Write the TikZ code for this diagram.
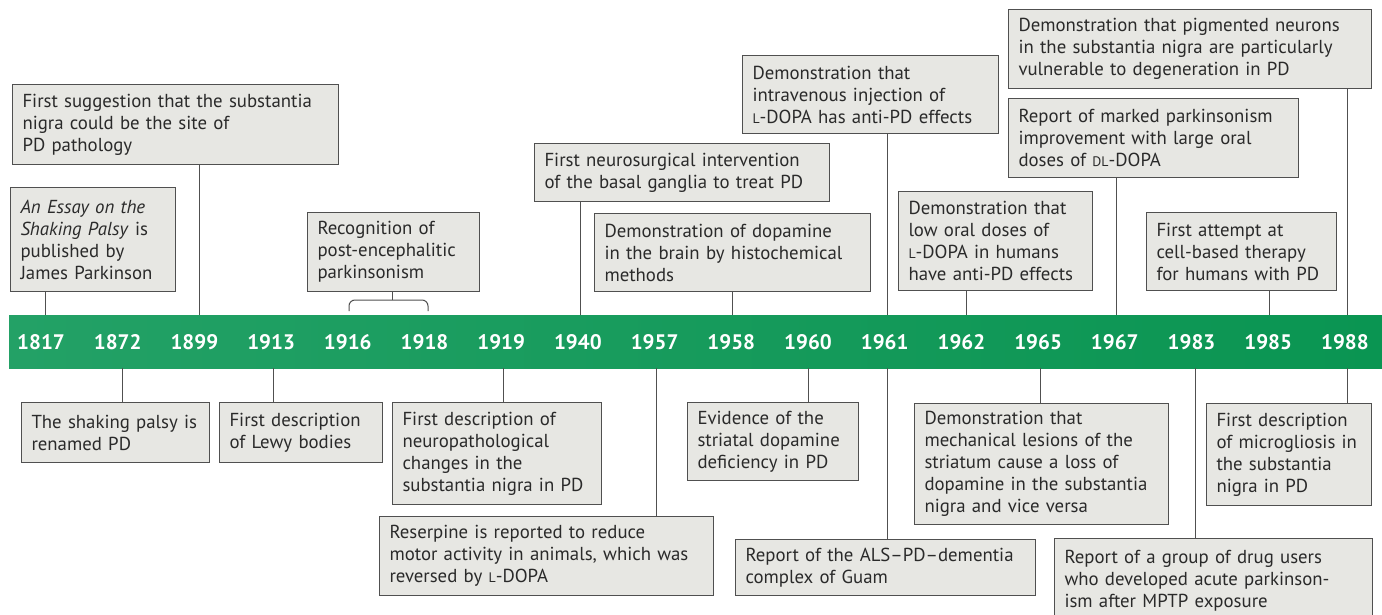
\documentclass[tikz,border=0pt]{standalone}
\usepackage{fontspec}
\setmainfont{PT Sans}
\definecolor{boxfill}{HTML}{E7E7E3}
\definecolor{boxline}{HTML}{505050}
\definecolor{txt}{HTML}{2A2A2A}
\definecolor{gL}{HTML}{23A166}
\definecolor{gR}{HTML}{0A9552}
\newcommand{\evfont}{\fontsize{18.8}{22}\selectfont}
\newcommand{\yrfont}{\fontsize{21}{22}\selectfont\bfseries}
\newcommand{\evsc}[1]{{\fontsize{13.8}{22}\selectfont #1}}
\tikzset{
  ev/.style={draw=boxline, fill=boxfill, line width=1pt, text=txt, font=\evfont,
    align=left, inner xsep=10pt, inner ysep=0pt, anchor=north west},
  conn/.style={draw=boxline, line width=1pt},
  yr/.style={text=white, font=\yrfont, inner sep=0pt},
  bar/.style={left color=gL, right color=gR, draw=none, inner sep=0pt,
    minimum width=1373pt, minimum height=53pt}
}
\begin{document}
\begin{tikzpicture}[x=1pt,y=-1pt]
\useasboundingbox (0,0) rectangle (1382,615);
\clip (0,0) rectangle (1382,615);
\fill[white] (0,0) rectangle (1382,615);

% timeline bar
\node[bar] (bar) at (695.5,341.5) {};
\foreach \yv [count=\i from 0] in {1817,1872,1899,1913,1916,1918,1919,1940,1957,1958,1960,1961,1962,1965,1967,1983,1985,1988}
  \node[yr] (y\yv) at ({41+76.7*\i},342) {\yv};

% connector x positions
\coordinate (x1817) at (45,0);
\coordinate (x1872) at (122,0);
\coordinate (x1899) at (199,0);
\coordinate (x1913) at (273,0);
\coordinate (x1916) at (349,0);
\coordinate (x1918) at (428,0);
\coordinate (x1917) at (392,0);
\coordinate (x1919) at (503,0);
\coordinate (x1940) at (580,0);
\coordinate (x1957) at (656,0);
\coordinate (x1958) at (732,0);
\coordinate (x1960) at (808,0);
\coordinate (x1961) at (887,0);
\coordinate (x1962) at (966,0);
\coordinate (x1965) at (1040,0);
\coordinate (x1967) at (1116,0);
\coordinate (x1983) at (1195,0);
\coordinate (x1985) at (1269,0);
\coordinate (x1988) at (1347,0);

% top boxes
\node[ev, text width=145pt, minimum height=104pt] (tEssay) at (10,187)
  {\textit{An Essay on the}\\\textit{Shaking Palsy} is\\published by\\James Parkinson};
\node[ev, text width=306pt, minimum height=80pt] (tSugg) at (12,84)
  {First suggestion that the substantia\\nigra could be the site of\\PD pathology};
\node[ev, text width=152pt, minimum height=79pt] (tRec) at (307,212)
  {Recognition of\\post-encephalitic\\parkinsonism};
\node[ev, text width=275pt, minimum height=58pt] (tSurg) at (534,143)
  {First neurosurgical intervention\\of the basal ganglia to treat PD};
\node[ev, text width=256pt, minimum height=78pt] (tHisto) at (594,213)
  {Demonstration of dopamine\\in the brain by histochemical\\methods};
\node[ev, text width=236pt, minimum height=78pt] (tIV) at (742,55)
  {Demonstration that\\intravenous injection of\\\evsc{L}-DOPA has anti-PD effects};
\node[ev, text width=174pt, minimum height=99pt] (tOral) at (898,191)
  {Demonstration that\\low oral doses of\\\evsc{L}-DOPA in humans\\have anti-PD effects};
\node[ev, text width=270pt, minimum height=79pt] (tDL) at (1008,98)
  {Report of marked parkinsonism\\improvement with large oral\\doses of \evsc{DL}-DOPA};
\node[ev, text width=343pt, minimum height=79pt] (tPig) at (1008,9)
  {Demonstration that pigmented neurons\\in the substantia nigra are particularly\\vulnerable to degeneration in PD};
\node[ev, text width=170pt, minimum height=78pt] (tCell) at (1146,212)
  {First attempt at\\cell-based therapy\\for humans with PD};

% bottom boxes
\node[ev, text width=168pt, minimum height=60pt] (bRen) at (21,402)
  {The shaking palsy is\\renamed PD};
\node[ev, text width=143pt, minimum height=60pt] (bLewy) at (219,402)
  {First description\\of Lewy bodies};
\node[ev, text width=189pt, minimum height=102pt] (bNeuro) at (392,402)
  {First description of\\neuropathological\\changes in the\\substantia nigra in PD};
\node[ev, text width=314pt, minimum height=79pt] (bRes) at (379,516)
  {Reserpine is reported to reduce\\motor activity in animals, which was\\reversed by \evsc{L}-DOPA};
\node[ev, text width=151pt, minimum height=78pt] (bEvid) at (687,402)
  {Evidence of the\\striatal dopamine\\deficiency in PD};
\node[ev, text width=280pt, minimum height=56pt] (bALS) at (735,539)
  {Report of the ALS–PD–dementia\\complex of Guam};
\node[ev, text width=234pt, minimum height=121pt] (bMech) at (914,403)
  {Demonstration that\\mechanical lesions of the\\striatum cause a loss of\\dopamine in the substantia\\nigra and vice versa};
\node[ev, text width=145pt, minimum height=102pt] (bMicro) at (1206,403)
  {First description\\of microgliosis in\\the substantia\\nigra in PD};
\node[ev, text width=298pt, minimum height=84pt] (bMPTP) at (1054,538)
  {Report of a group of drug users\\who developed acute parkinson-\\ism after MPTP exposure};

% connectors above the bar
\draw[conn] (x1817 |- tEssay.south) -- (x1817 |- bar.north);
\draw[conn] (x1899 |- tSugg.south) -- (x1899 |- bar.north);
\coordinate (brc) at (392,300);
\draw[conn] (brc) -- (x1917 |- tRec.south);
\draw[conn, rounded corners=6pt] (349,311) -- (349,300) -- (428,300) -- (428,311);
\draw[conn] (x1940 |- tSurg.south) -- (x1940 |- bar.north);
\draw[conn] (x1958 |- tHisto.south) -- (x1958 |- bar.north);
\draw[conn] (x1961 |- tIV.south) -- (x1961 |- bar.north);
\draw[conn] (x1962 |- tOral.south) -- (x1962 |- bar.north);
\draw[conn] (x1967 |- tDL.south) -- (x1967 |- bar.north);
\draw[conn] (x1985 |- tCell.south) -- (x1985 |- bar.north);
\draw[conn] (x1988 |- tPig.south) -- (x1988 |- bar.north);

% connectors below the bar
\draw[conn] (x1872 |- bar.south) -- (x1872 |- bRen.north);
\draw[conn] (x1913 |- bar.south) -- (x1913 |- bLewy.north);
\draw[conn] (x1919 |- bar.south) -- (x1919 |- bNeuro.north);
\draw[conn] (x1957 |- bar.south) -- (x1957 |- bRes.north);
\draw[conn] (x1960 |- bar.south) -- (x1960 |- bEvid.north);
\draw[conn] (x1961 |- bar.south) -- (x1961 |- bALS.north);
\draw[conn] (x1965 |- bar.south) -- (x1965 |- bMech.north);
\draw[conn] (x1983 |- bar.south) -- (x1983 |- bMPTP.north);
\draw[conn] (x1988 |- bar.south) -- (x1988 |- bMicro.north);
\end{tikzpicture}
\end{document}
